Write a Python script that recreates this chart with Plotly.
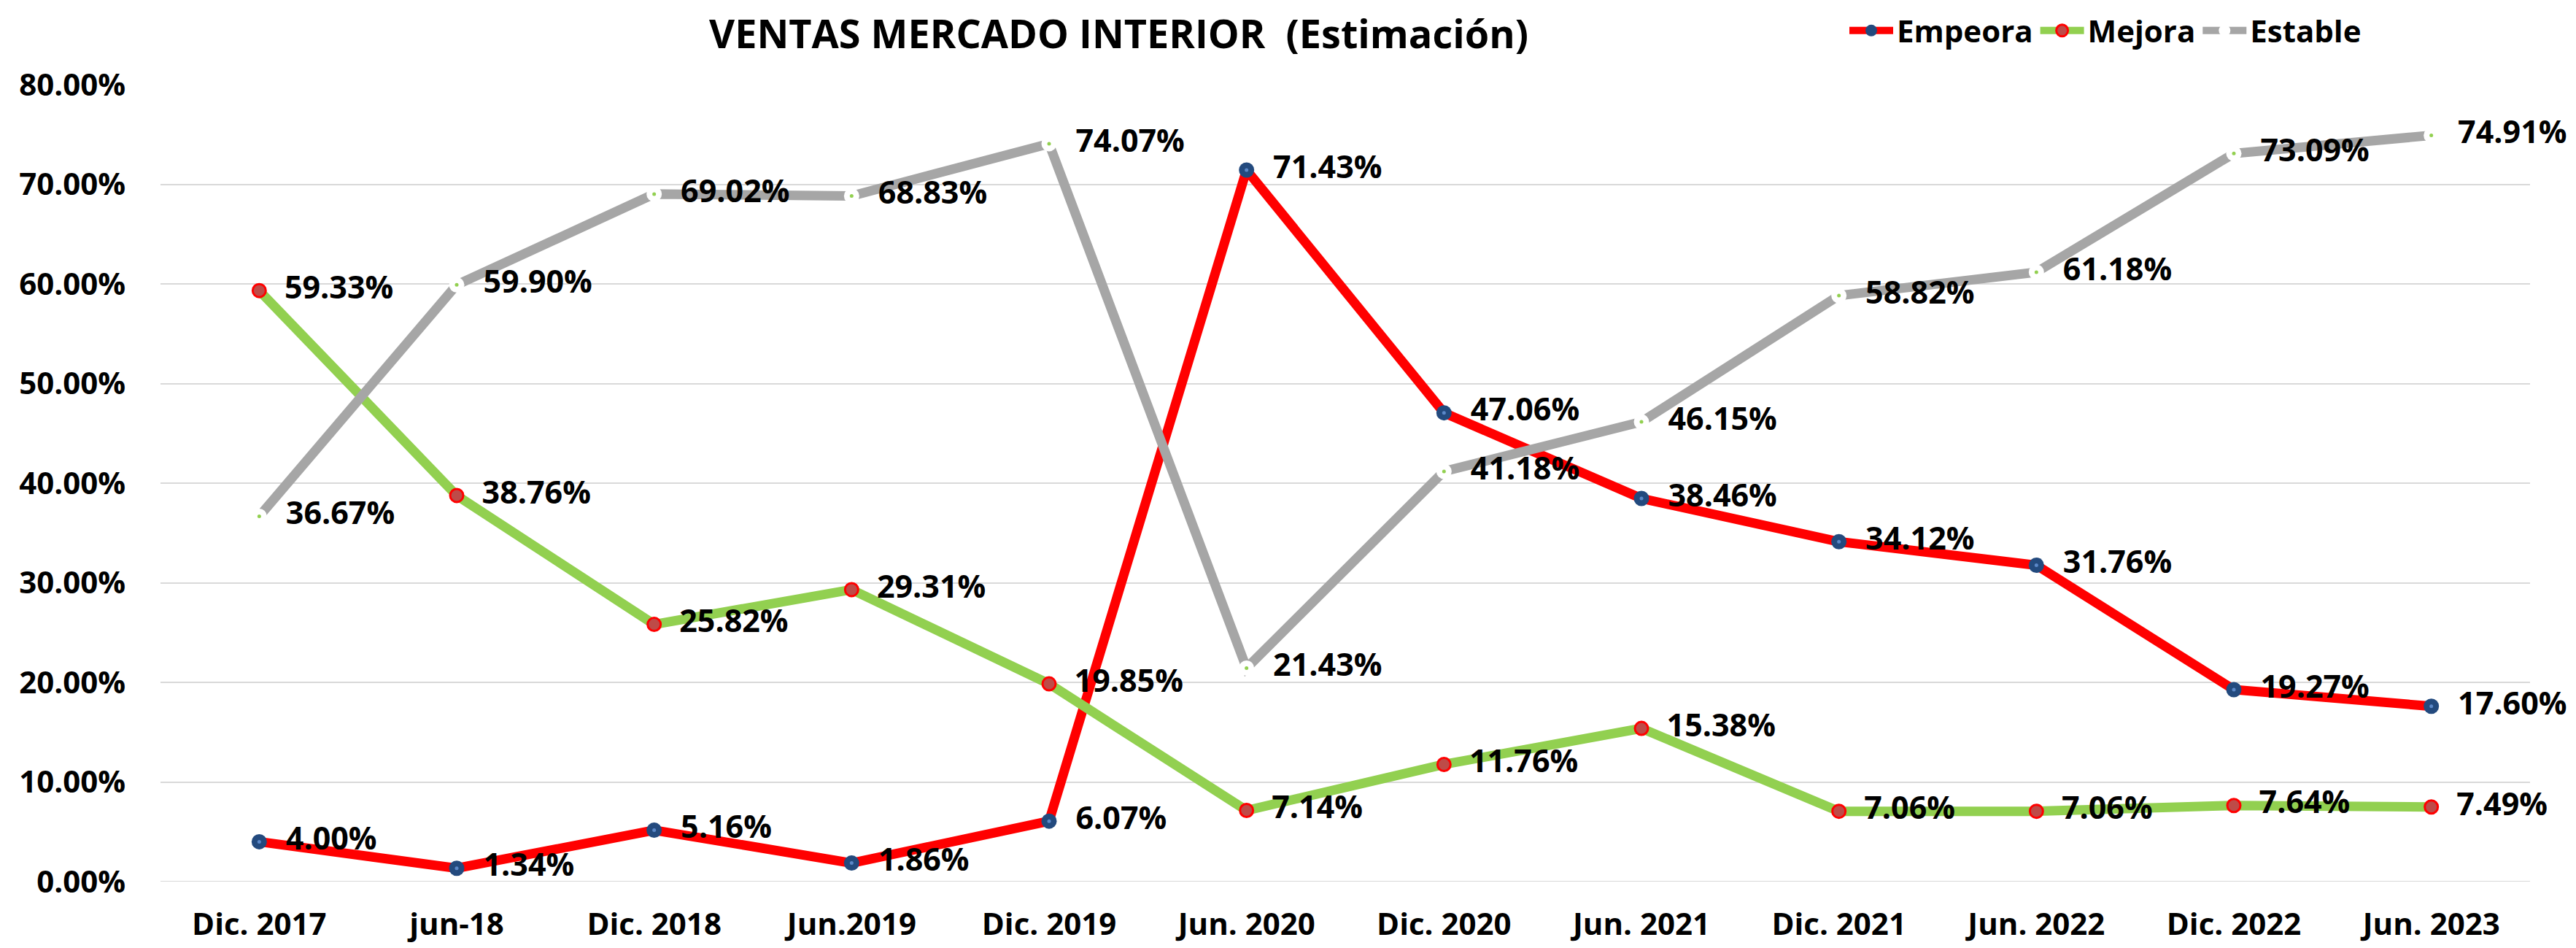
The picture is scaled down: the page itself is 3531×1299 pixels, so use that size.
import plotly.graph_objects as go

categories = ["Dic. 2017", "jun-18", "Dic. 2018", "Jun.2019", "Dic. 2019", "Jun. 2020",
              "Dic. 2020", "Jun. 2021", "Dic. 2021", "Jun. 2022", "Dic. 2022", "Jun. 2023"]
empeora = [4.00, 1.34, 5.16, 1.86, 6.07, 71.43, 47.06, 38.46, 34.12, 31.76, 19.27, 17.60]
mejora = [59.33, 38.76, 25.82, 29.31, 19.85, 7.14, 11.76, 15.38, 7.06, 7.06, 7.64, 7.49]
estable = [36.67, 59.90, 69.02, 68.83, 74.07, 21.43, 41.18, 46.15, 58.82, 61.18, 73.09, 74.91]
y_ticks = [0, 10, 20, 30, 40, 50, 60, 70, 80]

FONT = "Open Sans"
OFF = 8  # page body margin
W, H = 3531 - OFF, 1299 - OFF
L, T = 220 - OFF, 116 - OFF
R = W - (3468 - OFF)
B = H - (1208 - OFF)

def frac(v):
    return [x / 100 for x in v]

def labels(v):
    return ["\u00a0\u00a0" + f"{x:.2f}%" for x in v]

fig = go.Figure()
lab_font = dict(family=FONT, size=43, color="black", weight="bold")

fig.add_trace(go.Scatter(
    x=categories, y=frac(empeora), name="Empeora", mode="lines+markers+text",
    line=dict(color="#FF0000", width=13),
    marker=dict(size=21, color="#234A7E", line=dict(width=0)),
    text=labels(empeora), textposition="middle right", cliponaxis=False,
    textfont=lab_font, hoverinfo="skip"))
fig.add_trace(go.Scatter(
    x=categories, y=frac(empeora), mode="markers", showlegend=False, cliponaxis=False,
    marker=dict(size=5, color="#5B88C8"), hoverinfo="skip"))

fig.add_trace(go.Scatter(
    x=categories, y=frac(mejora), name="Mejora", mode="lines+markers+text",
    line=dict(color="#92D050", width=13),
    marker=dict(size=18, color="#BE4B48", line=dict(width=3, color="#FF0000")),
    text=labels(mejora), textposition="middle right", cliponaxis=False,
    textfont=lab_font, hoverinfo="skip"))

fig.add_trace(go.Scatter(
    x=categories, y=frac(estable), name="Estable", mode="lines+markers+text",
    line=dict(color="#A6A6A6", width=13),
    marker=dict(size=21, color="#FFFFFF", line=dict(width=0)),
    text=labels(estable), textposition="middle right", cliponaxis=False,
    textfont=lab_font, hoverinfo="skip"))
fig.add_trace(go.Scatter(
    x=categories, y=frac(estable), mode="markers", showlegend=False, cliponaxis=False,
    marker=dict(size=5, color="#92D050"), hoverinfo="skip"))

fig.update_layout(
    width=W, height=H, autosize=False,
    margin=dict(l=L, r=R, t=T, b=B, autoexpand=False),
    paper_bgcolor="white", plot_bgcolor="white",
    title=dict(text="VENTAS MERCADO INTERIOR  (Estimación)", x=((973 + 2094) / 2 - OFF) / W,
               xanchor="center", y=1 - (47 - OFF) / H, yanchor="middle",
               xref="container", yref="container",
               font=dict(family=FONT, size=54, color="black", weight="bold")),
    legend=dict(orientation="h", x=(2530 - OFF) / W, xanchor="left", xref="container", yref="container",
                y=1, yanchor="top",
                font=dict(family=FONT, size=42, color="black", weight="bold"),
                bgcolor="rgba(0,0,0,0)", itemwidth=60, tracegroupgap=0),
    showlegend=True,
)
fig.update_xaxes(type="category", range=[-0.5, 11.5], showgrid=False, showline=False,
                 zeroline=False, ticks="", ticklabelstandoff=30,
                 tickfont=dict(family=FONT, size=42, color="black", weight="bold"))
fig.update_yaxes(range=[0, 0.8], tickvals=[v / 100 for v in y_ticks], tickformat=".2%",
                 showgrid=True, gridcolor="#D9D9D9", gridwidth=2, zeroline=False,
                 showline=False, ticks="", ticklabelstandoff=47,
                 tickfont=dict(family=FONT, size=42, color="black", weight="bold"))
fig.add_shape(type="line", xref="paper", yref="y", x0=0, x1=1, y0=0, y1=0,
              line=dict(color="#D9D9D9", width=2), layer="below")

fig.write_html("out.html")
